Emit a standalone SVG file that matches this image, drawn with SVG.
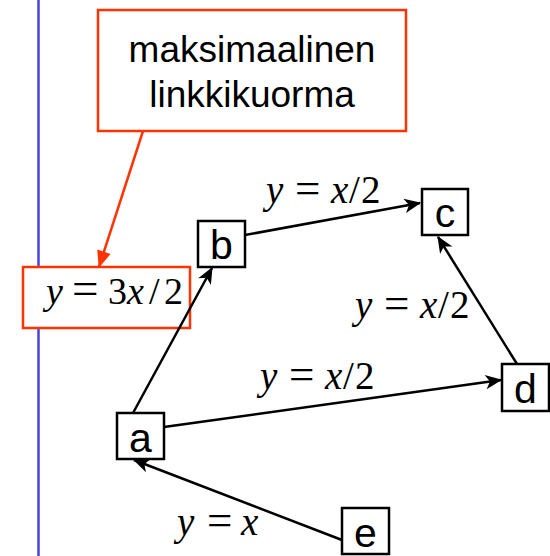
<svg xmlns="http://www.w3.org/2000/svg" width="550" height="556" viewBox="0 0 550 556">
<style>
.node rect{fill:#fff;stroke:#000;stroke-width:2.5}
.node text{font-family:"Liberation Sans",Arial,sans-serif;font-size:41px;text-anchor:middle;fill:#000}
.edge{stroke:#000;stroke-width:2.5;fill:none;marker-end:url(#arr)}
.lbl{font-family:"Liberation Serif","Times New Roman",serif;font-size:39px;fill:#000}
.it{font-style:italic}
.eq{font-size:45px}
.callout{fill:#fff;stroke:#ff3300;stroke-width:2.5}
.callout-text{font-family:"Liberation Sans",Arial,sans-serif;font-size:37px;text-anchor:middle;fill:#000}
</style>
<defs>
<marker id="arr" markerUnits="userSpaceOnUse" markerWidth="20" markerHeight="20" viewBox="-16 -8 18 16" refX="0" refY="0" orient="auto">
<path d="M1,0 L-14,-6.5 L-10,0 L-14,6.5 Z" fill="#000"/>
</marker>
<marker id="redarr" markerUnits="userSpaceOnUse" markerWidth="20" markerHeight="20" viewBox="-18 -9 20 18" refX="0" refY="0" orient="auto">
<path d="M1,0 L-16,-7 L-16,7 Z" fill="#ff3300"/>
</marker>
</defs>
<rect width="550" height="556" fill="#fff"/>
<line x1="38.5" y1="0" x2="38.5" y2="556" stroke="#4444dd" stroke-width="2.5"/>

<g id="callout">
<rect class="callout" x="98" y="10" width="308" height="121"/>
<text class="callout-text" x="252" y="62">maksimaalinen</text>
<text class="callout-text" x="252" y="107">linkkikuorma</text>
</g>

<g id="maxload">
<rect class="callout" x="23" y="267" width="167" height="61"/>
<text class="lbl" y="304" style="font-size:38px"><tspan class="it" x="46">y</tspan><tspan x="72" style="font-size:47px">=</tspan><tspan x="108">3</tspan><tspan class="it" x="127">x</tspan><tspan x="149">/</tspan><tspan x="164">2</tspan></text>
</g>

<g id="connectors">
<line x1="143" y1="131" x2="99" y2="267" stroke="#ff3300" stroke-width="2.5" marker-end="url(#redarr)"/>
<line class="edge" x1="133" y1="413" x2="212" y2="268"/>
<line class="edge" x1="245" y1="235" x2="420" y2="203"/>
<line class="edge" x1="517" y1="364" x2="438" y2="237"/>
<line class="edge" x1="164" y1="427" x2="501" y2="380"/>
<line class="edge" x1="342" y1="540" x2="134" y2="460"/>
<text class="lbl" y="203"><tspan class="it" x="266">y</tspan><tspan class="eq" x="295">=</tspan><tspan class="it" x="331">x</tspan><tspan x="349">/</tspan><tspan x="361">2</tspan></text>
<text class="lbl" y="318"><tspan class="it" x="355">y</tspan><tspan class="eq" x="384">=</tspan><tspan class="it" x="420">x</tspan><tspan x="438">/</tspan><tspan x="450">2</tspan></text>
<text class="lbl" y="389"><tspan class="it" x="260">y</tspan><tspan class="eq" x="289">=</tspan><tspan class="it" x="325">x</tspan><tspan x="343">/</tspan><tspan x="355">2</tspan></text>
<text class="lbl" y="535"><tspan class="it" x="177">y</tspan><tspan class="eq" x="207">=</tspan><tspan class="it" x="241">x</tspan></text>
</g>

<g id="node-a" class="node"><rect x="117" y="413" width="47" height="46"/><text x="140.5" y="452">a</text></g>
<g id="node-b" class="node"><rect x="198" y="221" width="47" height="46"/><text x="221.5" y="259">b</text></g>
<g id="node-c" class="node"><rect x="422" y="189" width="46" height="46"/><text x="445" y="227">c</text></g>
<g id="node-d" class="node"><rect x="502" y="364" width="47" height="47"/><text x="525.5" y="403">d</text></g>
<g id="node-e" class="node"><rect x="342" y="508" width="47" height="46"/><text x="365.5" y="547">e</text></g>
</svg>
